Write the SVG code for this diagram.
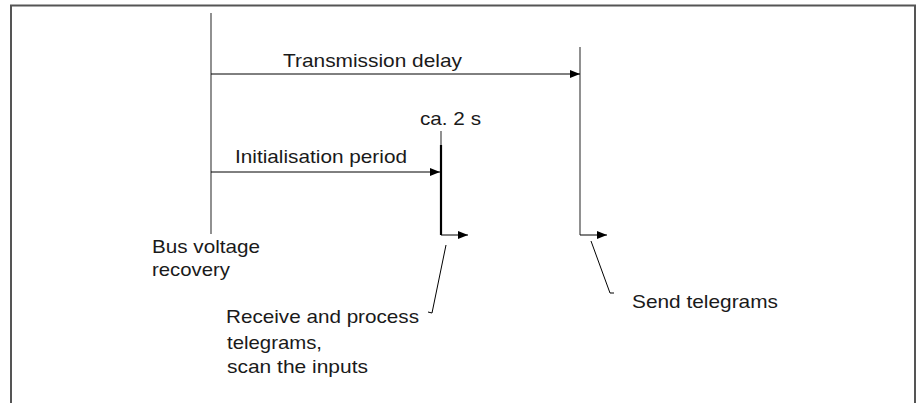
<svg xmlns="http://www.w3.org/2000/svg" width="922" height="403" viewBox="0 0 922 403">
<defs>
<marker id="ah" markerWidth="10" markerHeight="8" refX="10" refY="4" orient="auto" markerUnits="userSpaceOnUse">
<path d="M0,0 L10,4 L0,8 Z" fill="#000"/>
</marker>
<style>
.t{font-family:"Liberation Sans",Arial,sans-serif;font-size:19px;fill:#1a1a1a}
.ln{stroke:#000;stroke-width:1;fill:none}
.gr{stroke:#555;stroke-width:1.3;fill:none}
</style>
</defs>
<rect width="922" height="403" fill="#fff"/>
<g id="frame">
<path d="M11,403 V5.5 H915 V403" fill="none" stroke="#555" stroke-width="2"/>
</g>
<g id="connectors">
<line class="gr" x1="211" y1="13" x2="211" y2="234"/>
<line class="gr" x1="580" y1="47" x2="580" y2="235"/>
<line class="gr" x1="441" y1="131" x2="441" y2="145"/>
<line x1="441" y1="145" x2="441" y2="235" stroke="#000" stroke-width="2.2"/>
<line class="ln" x1="211" y1="74" x2="580" y2="74" marker-end="url(#ah)"/>
<line class="ln" x1="211" y1="172" x2="440" y2="172" marker-end="url(#ah)"/>
<line class="ln" x1="441" y1="235" x2="468" y2="235" marker-end="url(#ah)"/>
<line class="ln" x1="580" y1="235" x2="607" y2="235" marker-end="url(#ah)"/>
<polyline class="ln" points="446,245 432,313 428,312"/>
<polyline class="ln" points="591,241 610,293 614,293"/>
</g>
<g id="labels">
<text class="t" x="283" y="67" textLength="179" lengthAdjust="spacingAndGlyphs">Transmission delay</text>
<text class="t" x="420" y="125" textLength="61" lengthAdjust="spacingAndGlyphs">ca. 2 s</text>
<text class="t" x="235" y="163" textLength="172" lengthAdjust="spacingAndGlyphs">Initialisation period</text>
<text class="t" x="152" y="253" textLength="108" lengthAdjust="spacingAndGlyphs">Bus voltage</text>
<text class="t" x="152" y="276" textLength="78" lengthAdjust="spacingAndGlyphs">recovery</text>
<text class="t" x="226" y="323" textLength="193" lengthAdjust="spacingAndGlyphs">Receive and process</text>
<text class="t" x="227" y="349" textLength="95" lengthAdjust="spacingAndGlyphs">telegrams,</text>
<text class="t" x="227" y="373" textLength="141" lengthAdjust="spacingAndGlyphs">scan the inputs</text>
<text class="t" x="632" y="308" textLength="146" lengthAdjust="spacingAndGlyphs">Send telegrams</text>
</g>
</svg>
